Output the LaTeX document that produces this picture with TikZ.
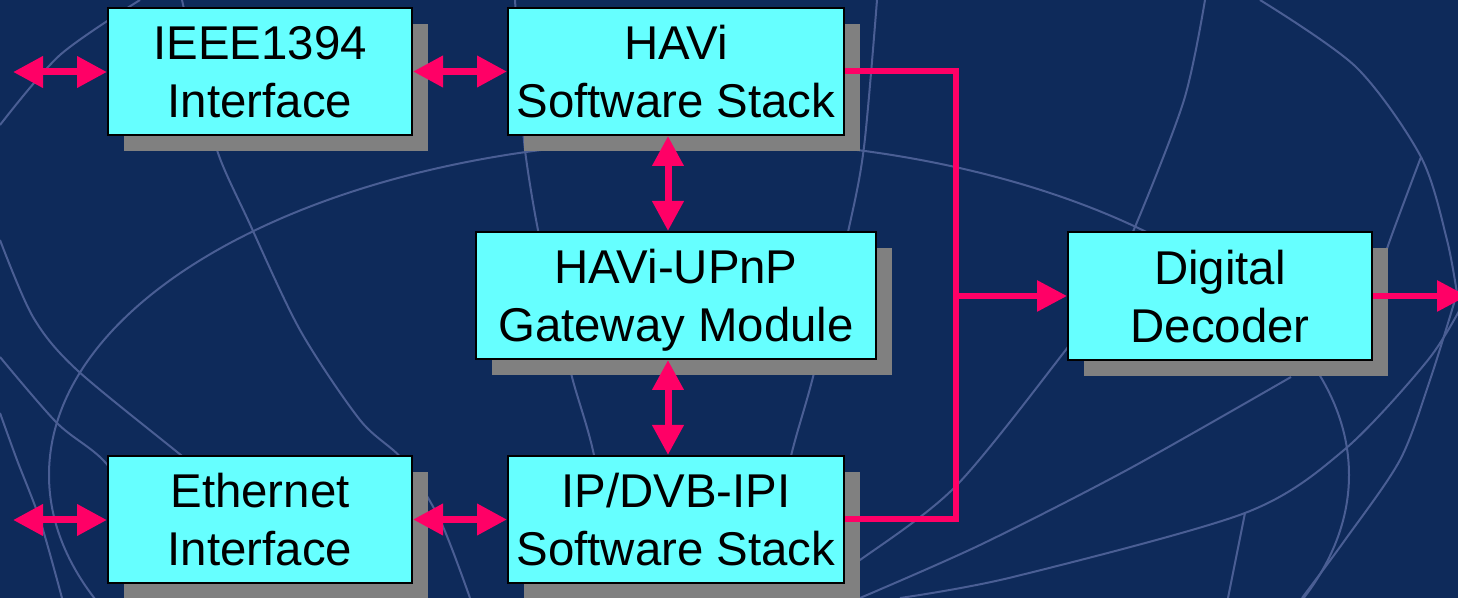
\documentclass[tikz,border=0pt]{standalone}
\usepackage{fontspec}
\setmainfont{Liberation Sans}
\usetikzlibrary{arrows.meta,shadows,calc}
\definecolor{bgblue}{RGB}{14,42,90}
\definecolor{bgline}{RGB}{74,94,148}
\definecolor{boxcyan}{HTML}{66FFFF}
\definecolor{linkred}{HTML}{FF0066}
\definecolor{shadowgray}{HTML}{808080}
\tikzset{
  box/.style={draw=black, line width=1pt, fill=boxcyan, align=center, inner sep=0pt,
    minimum height=63.5pt, text depth=0pt, font=\fontsize{23.7}{29}\selectfont,
    drop shadow={shadow xshift=8pt, shadow yshift=-8pt, fill=shadowgray, opacity=1}},
  dbl/.style={draw=linkred, line width=3.5pt,
    {Triangle[length=15pt,width=15pt]}-{Triangle[length=15pt,width=15pt]}},
  conn/.style={draw=linkred, line width=3pt},
  oneway/.style={conn, -{Triangle[length=15pt,width=15pt]}},
  globe/.style={draw=bgline, line width=1pt}
}
\begin{document}
\begin{tikzpicture}[x=0.5pt, y=-0.5pt]
\useasboundingbox (0,0) rectangle (1458,598);
\clip (0,0) rectangle (1458,598);
\fill[bgblue] (0,0) rectangle (1458,598);
% background globe
\draw[globe] (699,475) ellipse [x radius=650, y radius=335];
\draw[globe] plot[smooth] coordinates {(140,0) (60,55) (0,125)};
\draw[globe] plot[smooth] coordinates {(0,240) (33,317) (77,370) (187,460) (260,520) (320,598)};
\draw[globe] plot[smooth] coordinates {(0,357) (57,423) (103,460) (150,520) (200,598)};
\draw[globe] plot[smooth] coordinates {(0,413) (17,460) (40,520) (62,598)};
\draw[globe] plot[smooth] coordinates {(182,0) (200,80) (218,153) (248,220) (300,330) (360,420) (403,460) (440,520) (470,598)};
\draw[globe] plot[smooth] coordinates {(515,0) (520,80) (525,150) (538,230) (555,300) (572,377) (595,460) (615,598)};
\draw[globe] plot[smooth] coordinates {(877,0) (864,147) (848,232) (813,377) (790,460) (760,598)};
\draw[globe] plot[smooth] coordinates {(1205,0) (1184,100) (1135,227) (1100,300) (1058,360) (955,487) (860,560) (800,598)};
\draw[globe] plot[smooth] coordinates {(1260,0) (1356,67) (1421,157) (1447,240) (1458,300)};
\draw[globe] plot[smooth] coordinates {(1421,157) (1390,240) (1370,300)};
\draw[globe] plot[smooth] coordinates {(1291,377) (1127,470) (980,545) (860,598)};
\draw[globe] plot[smooth] coordinates {(1465,300) (1428,360) (1344,450) (1245,513) (1013,577) (900,598)};
\draw[globe] plot[smooth] coordinates {(1245,513) (1228,598)};
\draw[globe] plot[smooth] coordinates {(1455,300) (1430,380) (1400,460) (1345,540) (1302,598)};
% boxes
\node[box, minimum width=152pt] (ieee) at (260,71.5) {IEEE1394\\Interface};
\node[box, minimum width=168pt] (havi) at (676,71.5) {HAVi\\Software Stack};
\node[box, minimum width=200pt] (gw) at (676,295.5) {HAVi-UPnP\\Gateway Module};
\node[box, minimum width=152pt] (eth) at (260,519.5) {Ethernet\\Interface};
\node[box, minimum width=168pt] (ip) at (676,519.5) {IP/DVB-IPI\\Software Stack};
\node[box, minimum width=152pt, minimum height=64pt] (dec) at (1220,296) {Digital\\Decoder};
% free ends
\coordinate (inA) at (13,72);
\coordinate (inB) at (13,520);
\coordinate (bus) at (956,296);
\coordinate (out) at (1467,296);
% connectors
\draw[dbl] (inA) -- (inA -| ieee.west);
\draw[dbl] (inB) -- (inB -| eth.west);
\draw[dbl] (ieee.east) -- (havi.west);
\draw[dbl] (eth.east) -- (ip.west);
\draw[dbl] ([xshift=-4pt]havi.south) -- ([xshift=-4pt]gw.north);
\draw[dbl] ([xshift=-4pt]gw.south) -- ([xshift=-4pt]ip.north);
\draw[conn] (havi.east) -- (havi.east -| bus) -- (ip.east -| bus) -- (ip.east);
\draw[oneway] (bus) -- (dec.west);
\draw[oneway] (dec.east) -- (out);
\end{tikzpicture}
\end{document}
